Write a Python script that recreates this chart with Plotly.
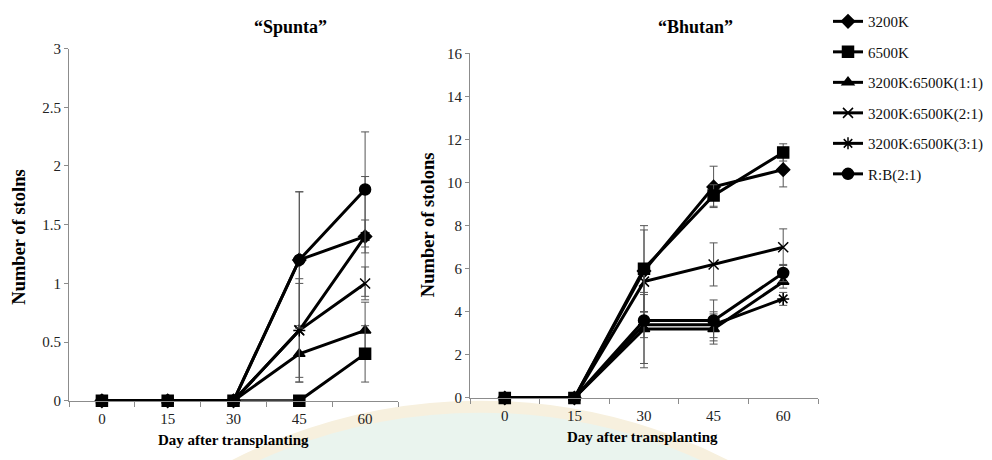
import plotly.graph_objects as go

# Sampling days (x) and the two cultivars
days = [0, 15, 30, 45, 60]
series_names = ["3200K", "6500K", "3200K:6500K(1:1)", "3200K:6500K(2:1)",
                "3200K:6500K(3:1)", "R:B(2:1)"]
symbols = ["diamond", "square", "triangle-up", "x-thin", "asterisk", "circle"]
sizes = [10, 11, 10, 10, 10, 11]

# "Spunta" - number of stolons (mean) and error
spunta_vals = [
    [0, 0, 0, 1.2, 1.4],
    [0, 0, 0, 0.0, 0.4],
    [0, 0, 0, 0.4, 0.6],
    [0, 0, 0, 0.6, 1.0],
    [0, 0, 0, 0.6, 1.4],
    [0, 0, 0, 1.2, 1.8],
]
spunta_err = [
    [0, 0, 0, 0.58, 0.51],
    [0, 0, 0, 0.0, 0.24],
    [0, 0, 0, 0.24, 0.24],
    [0, 0, 0, 0.4, 0.14],
    [0, 0, 0, 0.44, 0.14],
    [0, 0, 0, 0.58, 0.49],
]

# "Bhutan" - number of stolons (mean) and error
bhutan_vals = [
    [0, 0, 5.9, 9.8, 10.6],
    [0, 0, 6.0, 9.4, 11.4],
    [0, 0, 3.2, 3.2, 5.4],
    [0, 0, 5.4, 6.2, 7.0],
    [0, 0, 3.4, 3.4, 4.6],
    [0, 0, 3.6, 3.6, 5.8],
]
bhutan_err = [
    [0, 0, 1.9, 0.96, 0.8],
    [0, 0, 2.0, 0.5, 0.4],
    [0, 0, 1.6, 0.7, 0.3],
    [0, 0, 0.5, 1.0, 0.85],
    [0, 0, 0.6, 0.6, 0.3],
    [0, 0, 2.2, 0.95, 0.4],
]

# drawing order: the 6500K squares sit on top of the other markers
draw_order = [0, 2, 3, 4, 5, 1]

FONT = "Liberation Serif, Times New Roman, serif"
AXIS_GRAY = "#8c8c8c"

fig = go.Figure()


def add_panel(vals, errs, xref, yref, show_legend):
    for i in draw_order:
        fig.add_trace(go.Scatter(
            x=days, y=vals[i], name=series_names[i], mode="lines+markers",
            xaxis=xref, yaxis=yref, showlegend=show_legend,
            legendgroup=f"g{i}", legendrank=i + 1, cliponaxis=False,
            line=dict(color="black", width=3),
            marker=dict(symbol=symbols[i], size=sizes[i], color="black",
                        line=dict(color="black", width=1.5)),
            error_y=dict(type="data", array=errs[i], visible=True,
                         color="#555555", thickness=1, width=4),
        ))


add_panel(spunta_vals, spunta_err, "x", "y", False)
add_panel(bhutan_vals, bhutan_err, "x2", "y2", True)

xcommon = dict(
    range=[-7.5, 67.5], tickvals=days, ticktext=[str(d) for d in days],
    ticks="", showline=True, linecolor=AXIS_GRAY, linewidth=1,
    showgrid=False, zeroline=False, ticklabelstandoff=4,
    tickfont=dict(family=FONT, size=15, color="#222"),
    minor=dict(tickvals=[-7.5, 7.5, 22.5, 37.5, 52.5, 67.5],
               ticks="outside", ticklen=5, tickcolor=AXIS_GRAY),
)
ycommon = dict(
    showline=True, linecolor=AXIS_GRAY, linewidth=1, showgrid=False,
    zeroline=False, ticks="outside", ticklen=4, tickcolor=AXIS_GRAY,
    tickfont=dict(family=FONT, size=15, color="#222"),
)

fig.update_layout(
    width=992, height=460,
    margin=dict(l=0, r=0, t=0, b=0),
    paper_bgcolor="white", plot_bgcolor="rgba(0,0,0,0)",
    xaxis=dict(domain=[69 / 992, 398 / 992], anchor="y", **xcommon),
    yaxis=dict(domain=[1 - 407 / 460, 1 - 42 / 460], anchor="x",
               range=[0, 3], dtick=0.5, **ycommon),
    xaxis2=dict(domain=[470 / 992, 818 / 992], anchor="y2", **xcommon),
    yaxis2=dict(domain=[1 - 404 / 460, 1 - 47 / 460], anchor="x2",
                range=[0, 16], dtick=2, **ycommon),
    legend=dict(x=828 / 992, y=1 + 3 / 460, xanchor="left", yanchor="top",
                font=dict(family=FONT, size=15, color="#111"),
                bgcolor="rgba(0,0,0,0)", tracegroupgap=8,
                traceorder="grouped", itemwidth=30),
    showlegend=True,
)

# faint circular seal behind the lower part of the figure
fig.add_shape(type="circle", xref="paper", yref="paper", layer="below",
              x0=(480 - 524) / 992, x1=(480 + 524) / 992,
              y0=1 - (413 + 2 * 524) / 460, y1=1 - 413 / 460,
              fillcolor="#eaf4ee", line=dict(color="#f7f0de", width=12))

title_font = dict(family=FONT, size=18, color="black")
xlabel_font = dict(family=FONT, size=15, color="black")
ylabel_font = dict(family=FONT, size=18.5, color="black")
annotations = [
    dict(text="<b>\u201cSpunta\u201d</b>", x=290 / 992, y=1 - 20 / 460, font=title_font),
    dict(text="<b>\u201cBhutan\u201d</b>", x=695 / 992, y=1 - 20 / 460, font=title_font),
    dict(text="<b>Day after transplanting</b>", x=233 / 992, y=1 - 448 / 460, font=xlabel_font),
    dict(text="<b>Day after transplanting</b>", x=642 / 992, y=1 - 444 / 460, font=xlabel_font),
    dict(text="<b>Number of stolns</b>", x=19 / 992, y=1 - 238 / 460, textangle=-90, font=ylabel_font),
    dict(text="<b>Number of stolons</b>", x=428 / 992, y=1 - 225 / 460, textangle=-90, font=ylabel_font),
]
for a in annotations:
    fig.add_annotation(xref="paper", yref="paper", showarrow=False,
                       xanchor="center", yanchor="middle", **a)

fig.write_html("out.html")
